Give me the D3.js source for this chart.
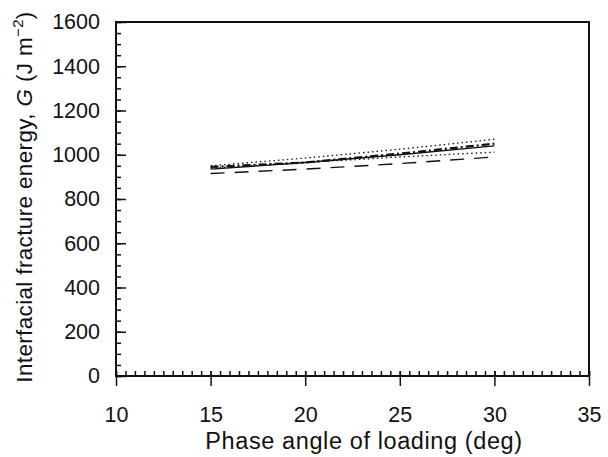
<!DOCTYPE html>
<html>
<head>
<meta charset="utf-8">
<script src="https://cdn.jsdelivr.net/npm/d3@7"></script>
<style>
  body { margin: 0; background: #fff; }
  text { font-family: "Liberation Sans", Arial, sans-serif; fill: #111; }
</style>
</head>
<body>
<div id="chart"></div>
<script>
// phase angle of loading (deg)
var phase = [15, 20, 25, 30];
// G values for each curve, J m^-2
var g_solid = [935, 965, 1000, 1040];
var g_longdash = [915, 935, 960, 990];
var g_dot_upper = [950, 985, 1025, 1070];
var g_dot_lower = [940, 965, 990, 1012];
var g_dashdot = [945, 965, 1005, 1050];

var x_ticks = [10, 15, 20, 25, 30, 35];
var y_ticks = [0, 200, 400, 600, 800, 1000, 1200, 1400, 1600];

var series = [
    {vals: g_longdash, dash: "14,10", width: 1.4},
    {vals: g_dot_lower, dash: "1.5,3", width: 1.3},
    {vals: g_dot_upper, dash: "1.5,3", width: 1.3},
    {vals: g_dashdot, dash: "8,3,2,3", width: 2.2},
    {vals: g_solid, dash: null, width: 1.4}
];

var W = 608, H = 457;
var mLeft = 116, mRight = 589, mTop = 22, mBottom = 376;

var svg = d3.select("#chart").append("svg")
    .attr("width", W)
    .attr("height", H);

var x = d3.scaleLinear().domain([10, 35]).range([mLeft, mRight]);
var y = d3.scaleLinear().domain([0, 1600]).range([mBottom, mTop]);

// minor ticks first
svg.append("g")
    .attr("transform", "translate(0," + mBottom + ")")
    .call(d3.axisTop(x).ticks(50).tickSize(5).tickFormat(""))
    .call(function(g){ g.select(".domain").remove(); });
svg.append("g")
    .attr("transform", "translate(" + mLeft + ",0)")
    .call(d3.axisRight(y).ticks(32).tickSize(5).tickFormat(""))
    .call(function(g){ g.select(".domain").remove(); });

// major x ticks, crossing the axis
svg.append("g")
    .attr("transform", "translate(0," + mBottom + ")")
    .call(d3.axisBottom(x).tickValues(x_ticks).tickSize(10).tickPadding(21))
    .call(function(g){
        g.select(".domain").remove();
        g.selectAll(".tick line").attr("y1", -5);
        g.selectAll("text").attr("font-size", "21.5px").attr("font-family", "Liberation Sans, Arial, sans-serif");
    });

// major y ticks inward, labels outside
svg.append("g")
    .attr("transform", "translate(" + mLeft + ",0)")
    .call(d3.axisRight(y).tickValues(y_ticks).tickSize(10).tickFormat(""))
    .call(function(g){ g.select(".domain").remove(); });
svg.append("g")
    .attr("transform", "translate(" + mLeft + ",0)")
    .call(d3.axisLeft(y).tickValues(y_ticks).tickSize(0).tickPadding(16).tickFormat(d3.format("d")))
    .call(function(g){
        g.select(".domain").remove();
        g.selectAll("text").attr("font-size", "21.5px").attr("font-family", "Liberation Sans, Arial, sans-serif");
    });

svg.selectAll(".tick line").attr("stroke", "#111").attr("stroke-width", 1.5);

// frame
svg.append("rect")
    .attr("x", mLeft).attr("y", mTop)
    .attr("width", mRight - mLeft).attr("height", mBottom - mTop)
    .attr("fill", "none")
    .attr("stroke", "#111")
    .attr("stroke-width", 2);

var line = d3.line()
    .x(function(d, i){ return x(phase[i]); })
    .y(function(d){ return y(d); });

svg.selectAll(".curve")
    .data(series)
    .enter()
    .append("path")
    .attr("class", "curve")
    .attr("d", function(d){ return line(d.vals); })
    .attr("fill", "none")
    .attr("stroke", "#111")
    .attr("stroke-width", function(d){ return d.width; })
    .attr("stroke-dasharray", function(d){ return d.dash; });

// axis titles
svg.append("text")
    .attr("x", 364)
    .attr("y", 449)
    .attr("text-anchor", "middle")
    .attr("font-size", "23.5px")
    .attr("letter-spacing", "0.6px")
    .text("Phase angle of loading (deg)");

var yt = svg.append("text")
    .attr("transform", "translate(32,197) rotate(-90)")
    .attr("text-anchor", "middle")
    .attr("font-size", "22.5px")
    .attr("letter-spacing", "0.35px");
yt.append("tspan").text("Interfacial fracture energy, ");
yt.append("tspan").attr("font-style", "italic").text("G");
yt.append("tspan").text(" (J m");
yt.append("tspan").attr("dy", "-9").attr("font-size", "15px").text("\u22122");
yt.append("tspan").attr("dy", "9").text(")");
</script>
</body>
</html>
